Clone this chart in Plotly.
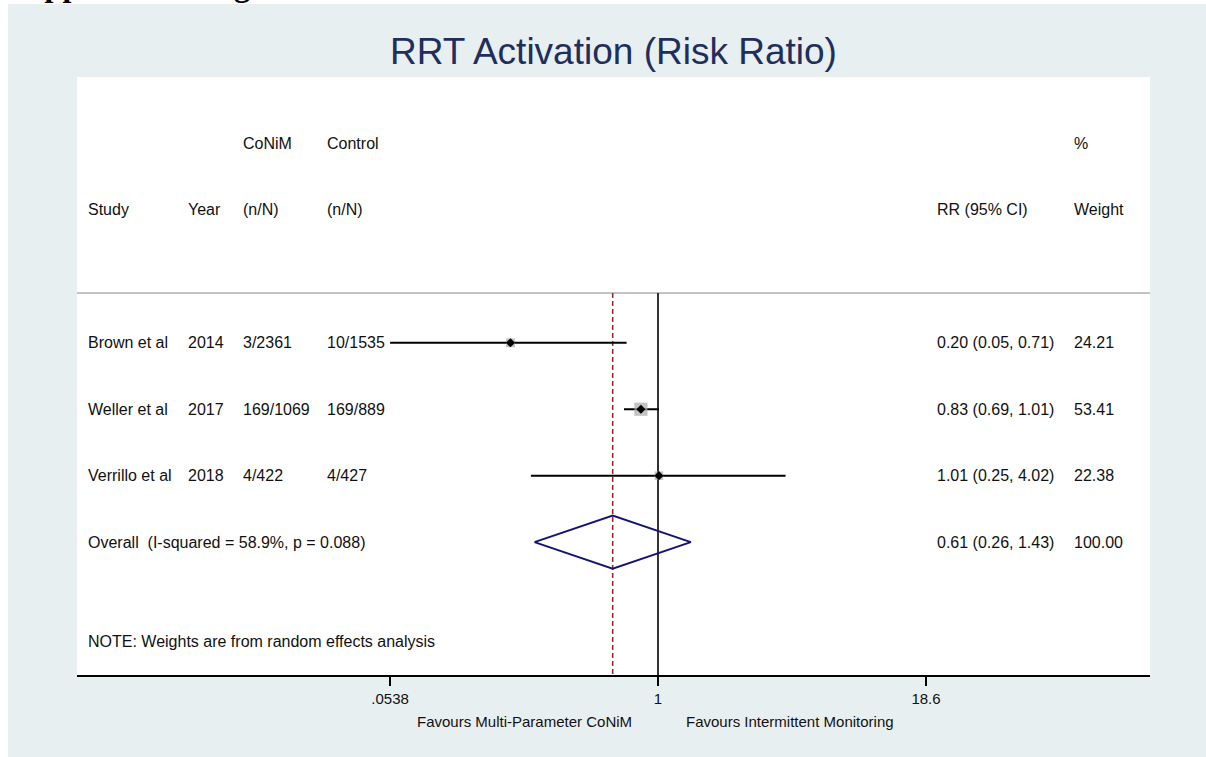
import math
import plotly.graph_objects as go

# ---------------- data ----------------
studies = ["Brown et al", "Weller et al", "Verrillo et al"]
years = ["2014", "2017", "2018"]
conim_nN = ["3/2361", "169/1069", "4/422"]
control_nN = ["10/1535", "169/889", "4/427"]
rr = [0.20, 0.83, 1.01]
ci_low = [0.05, 0.69, 0.25]
ci_high = [0.71, 1.01, 4.02]
weights = [24.21, 53.41, 22.38]

overall_rr = 0.61
overall_low = 0.26
overall_high = 1.43
overall_weight = 100.00
overall_label = "Overall\u00a0 (I-squared = 58.9%, p = 0.088)"
note_text = "NOTE: Weights are from random effects analysis"

tick_vals = [0.0538, 1, 18.6]
tick_text = [".0538", "1", "18.6"]

title_text = "RRT Activation (Risk Ratio)"
favours_left = "Favours Multi-Parameter CoNiM"
favours_right = "Favours Intermittent Monitoring"

# ---------------- layout geometry ----------------
W, H = 1206, 757
ML, MR, MT, MB = 77, 56, 77, 82
PW = W - ML - MR
PH = H - MT - MB


def px_x(p):
    return (p - ML) / PW


def px_y(p):
    return (H - MB - p) / PH


FONT = "Arial, 'Liberation Sans', sans-serif"
TXT = "#111111"
rows = [1, 2, 3]
overall_row = 4
sep_row = 0.25
y_bottom = 6
axis_min = min(tick_vals)

fig = go.Figure()

# reference line at 1 (null effect)
fig.add_trace(go.Scatter(x=[1, 1], y=[sep_row, y_bottom], mode="lines",
                         line=dict(color="black", width=1.6),
                         hoverinfo="skip", showlegend=False))

# overall dashed line
fig.add_trace(go.Scatter(x=[overall_rr, overall_rr], y=[sep_row, y_bottom], mode="lines",
                         line=dict(color="#972a33", width=1.6, dash="5px,3px"),
                         hoverinfo="skip", showlegend=False))

# CI lines (clipped to axis minimum)
for r, lo, hi in zip(rows, ci_low, ci_high):
    fig.add_trace(go.Scatter(x=[max(lo, axis_min), hi], y=[r, r], mode="lines",
                             line=dict(color="black", width=2),
                             hoverinfo="skip", showlegend=False))

# weight boxes
fig.add_trace(go.Scatter(x=rr, y=rows, mode="markers",
                         marker=dict(symbol="square", color="#a9a9a9",
                                     size=[1.8 * math.sqrt(w) for w in weights],
                                     line=dict(width=0)),
                         hoverinfo="skip", showlegend=False))

# point estimates
fig.add_trace(go.Scatter(x=rr, y=rows, mode="markers",
                         marker=dict(symbol="diamond", color="black", size=7,
                                     line=dict(width=0)),
                         hoverinfo="skip", showlegend=False))

# overall diamond
fig.add_trace(go.Scatter(
    x=[overall_low, overall_rr, overall_high, overall_rr, overall_low],
    y=[overall_row, overall_row - 0.4, overall_row, overall_row + 0.4, overall_row],
    mode="lines", line=dict(color="#141478", width=2),
    hoverinfo="skip", showlegend=False))

# ---------------- text table ----------------
ann = []
PADX = 2  # annotation box padding


def add_text(xp, y, text, anchor="left", size=16, color=TXT):
    ann.append(dict(x=px_x(xp - PADX), xref="paper", y=y, yref="y", text=text,
                    showarrow=False, xanchor=anchor, yanchor="middle",
                    font=dict(family=FONT, size=size, color=color)))


col_study, col_year, col_conim, col_control, col_rr, col_w = 88, 188, 243, 327, 937, 1074

add_text(col_conim, -2, "CoNiM")
add_text(col_control, -2, "Control")
add_text(col_w, -2, "%")
add_text(col_study, -1, "Study")
add_text(col_year, -1, "Year")
add_text(col_conim, -1, "(n/N)")
add_text(col_control, -1, "(n/N)")
add_text(col_rr, -1, "RR (95% CI)")
add_text(col_w, -1, "Weight")

for r, s, yv, a, b, e, lo, hi, w in zip(rows, studies, years, conim_nN, control_nN,
                                       rr, ci_low, ci_high, weights):
    add_text(col_study, r, s)
    add_text(col_year, r, yv)
    add_text(col_conim, r, a)
    add_text(col_control, r, b)
    add_text(col_rr, r, f"{e:.2f} ({lo:.2f}, {hi:.2f})")
    add_text(col_w, r, f"{w:.2f}")

add_text(col_study, overall_row, overall_label)
add_text(col_rr, overall_row, f"{overall_rr:.2f} ({overall_low:.2f}, {overall_high:.2f})")
add_text(col_w, overall_row, f"{overall_weight:.2f}")
add_text(col_study, 5.5, note_text)

# favours labels
ann.append(dict(x=px_x(634), xref="paper", y=px_y(721), yref="paper", text=favours_left,
                showarrow=False, xanchor="right", yanchor="middle",
                font=dict(family=FONT, size=15, color=TXT)))
ann.append(dict(x=px_x(684), xref="paper", y=px_y(721), yref="paper", text=favours_right,
                showarrow=False, xanchor="left", yanchor="middle",
                font=dict(family=FONT, size=15, color=TXT)))

# title
ann.append(dict(x=0.5, xref="paper", y=px_y(52), yref="paper", text=title_text,
                showarrow=False, xanchor="center", yanchor="middle",
                font=dict(family=FONT, size=37, color="#1f2e5c")))

# cropped document heading at very top
ann.append(dict(x=px_x(7), xref="paper", y=px_y(5), yref="paper",
                text="<b>Supplemental Figure</b>",
                showarrow=False, xanchor="left", yanchor="bottom",
                font=dict(family="'Liberation Serif', 'Times New Roman', serif",
                          size=32, color="black")))

shapes = [
    # separator line under header
    dict(type="line", xref="paper", x0=0, x1=1, yref="y", y0=sep_row, y1=sep_row,
         line=dict(color="#c3c3c3", width=2), layer="below"),
    # white page margins outside the graph background
    dict(type="rect", xref="paper", yref="paper",
         x0=px_x(0), x1=px_x(8), y0=px_y(H), y1=px_y(0),
         fillcolor="white", line=dict(width=0), layer="below"),
    dict(type="rect", xref="paper", yref="paper",
         x0=px_x(0), x1=px_x(W), y0=px_y(4), y1=px_y(0),
         fillcolor="white", line=dict(width=0), layer="below"),
]

log_min = math.log10(tick_vals[1]) + (ML - 658) / 211.1
log_max = math.log10(tick_vals[1]) + (ML + PW - 658) / 211.1

fig.update_layout(
    width=W, height=H,
    margin=dict(l=ML, r=MR, t=MT, b=MB, pad=0),
    paper_bgcolor="#e8eff1",
    plot_bgcolor="white",
    showlegend=False,
    annotations=ann,
    shapes=shapes,
    xaxis=dict(type="log", range=[log_min, log_max], tickvals=tick_vals, ticktext=tick_text,
               showgrid=False, zeroline=False, showline=True, linecolor="black", linewidth=2,
               ticks="outside", ticklen=9, tickwidth=1.6, tickcolor="black",
               tickfont=dict(family=FONT, size=15, color=TXT), fixedrange=True),
    yaxis=dict(range=[y_bottom, -3], visible=False, fixedrange=True),
)

fig.write_html("out.html", config={"displayModeBar": False},
               post_script="document.body.style.margin='0';document.body.style.overflow='hidden';")
